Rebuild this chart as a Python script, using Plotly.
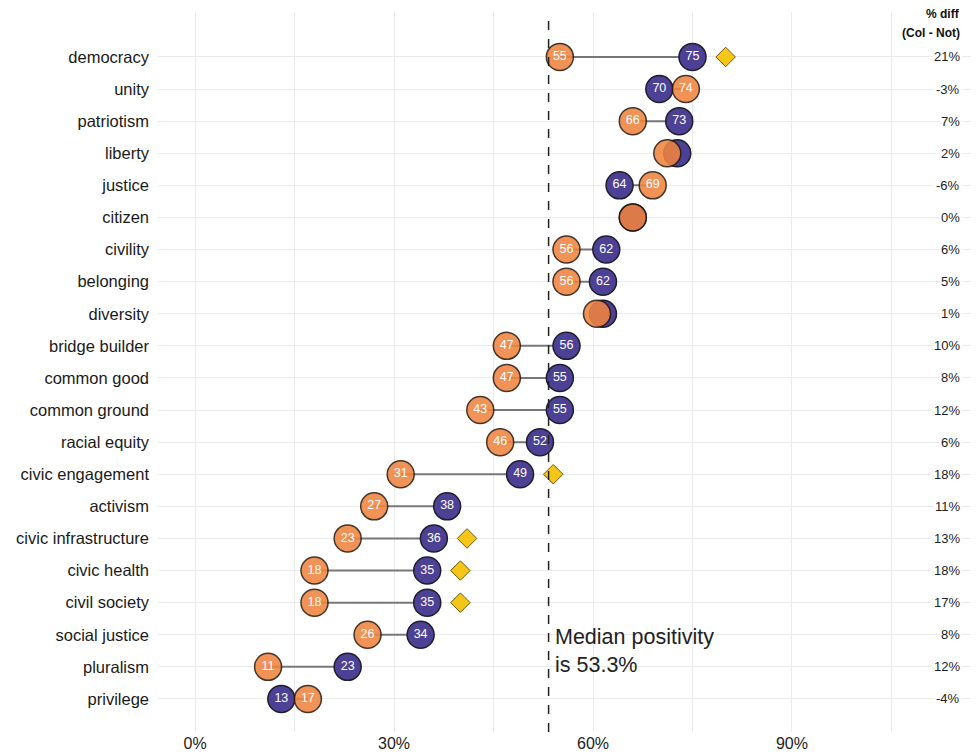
import plotly.graph_objects as go

terms = ["democracy", "unity", "patriotism", "liberty", "justice", "citizen", "civility",
         "belonging", "diversity", "bridge builder", "common good", "common ground",
         "racial equity", "civic engagement", "activism", "civic infrastructure",
         "civic health", "civil society", "social justice", "pluralism", "privilege"]
col_vals = [75, 70, 73, 72.7, 64, 66, 62, 61.5, 61.5, 56, 55, 55, 52, 49, 38, 36, 35, 35, 34, 23, 13]
not_vals = [55, 74, 66, 71.2, 69, 66, 56, 56, 60.6, 47, 47, 43, 46, 31, 27, 23, 18, 18, 26, 11, 17]
diff_labels = ["21%", "-3%", "7%", "2%", "-6%", "0%", "6%", "5%", "1%", "10%", "8%", "12%",
               "6%", "18%", "11%", "13%", "18%", "17%", "8%", "12%", "-4%"]
significant = [True, False, False, False, False, False, False, False, False, False, False, False,
               False, True, False, True, True, True, False, False, False]
median_positivity = 53.3
x_tick_vals = [0, 15, 30, 45, 60, 75, 90, 105]
x_tick_text = ["0%", "", "30%", "", "60%", "", "90%", ""]

PURPLE = "#4d4195"
ORANGE = "#f0843f"
FONT = "Liberation Sans, Arial, sans-serif"

ys = list(range(len(terms)))

fig = go.Figure()

# connecting segments
seg_x, seg_y = [], []
for i, (c, n) in enumerate(zip(col_vals, not_vals)):
    seg_x += [min(c, n), max(c, n), None]
    seg_y += [i, i, None]
fig.add_trace(go.Scatter(x=seg_x, y=seg_y, mode="lines",
                         line=dict(color="#777777", width=2), hoverinfo="skip", showlegend=False))

def lab(v, other):
    return "" if abs(v - other) < 3 else f"{round(v):d}"

col_text = [lab(c, n) for c, n in zip(col_vals, not_vals)]
not_text = [lab(n, c) for c, n in zip(col_vals, not_vals)]

fig.add_trace(go.Scatter(x=col_vals, y=ys, mode="markers+text", text=col_text,
                         textposition="middle center",
                         textfont=dict(color="white", size=12.5, family=FONT),
                         marker=dict(size=27, color=PURPLE, line=dict(color="#1e1e2e", width=1.5)),
                         name="Col", showlegend=False))
fig.add_trace(go.Scatter(x=not_vals, y=ys, mode="markers+text", text=not_text,
                         textposition="middle center",
                         textfont=dict(color="white", size=12.5, family=FONT),
                         marker=dict(size=27, color=ORANGE, opacity=0.88,
                                     line=dict(color="#2a1a10", width=1.5)),
                         name="Not", showlegend=False))

# significance diamonds
dx = [c + 5 for c, s in zip(col_vals, significant) if s]
dy = [i for i, s in zip(ys, significant) if s]
fig.add_trace(go.Scatter(x=dx, y=dy, mode="markers",
                         marker=dict(symbol="diamond", size=15, color="#f5c518",
                                     line=dict(color="#6b5a10", width=1)),
                         showlegend=False, hoverinfo="skip"))

# median line
fig.add_shape(type="line", x0=median_positivity, x1=median_positivity, y0=0, y1=1,
              xref="x", yref="paper", line=dict(color="#222222", width=1.5, dash="dash"))
fig.add_annotation(x=median_positivity + 0.6, y=18.5, xref="x", yref="y",
                   text="Median positivity<br>is 53.3%", showarrow=False,
                   xanchor="left", yanchor="middle", align="left",
                   font=dict(size=21.5, color="#222222", family=FONT))

# diff column
DIFF_X = 115.6
for i, t in enumerate(diff_labels):
    fig.add_annotation(x=DIFF_X, y=i, xref="x", yref="y", text=t, showarrow=False,
                       xanchor="right", yanchor="middle", bgcolor="white",
                       font=dict(size=13, color="#222222", family=FONT))
fig.add_annotation(x=DIFF_X, y=-1.34, xref="x", yref="y", text="<b>% diff</b>", showarrow=False,
                   xanchor="right", yanchor="middle", font=dict(size=12, color="#111111", family=FONT))
fig.add_annotation(x=DIFF_X, y=-0.75, xref="x", yref="y", text="<b>(Col - Not)</b>", showarrow=False,
                   xanchor="right", yanchor="middle", font=dict(size=12, color="#111111", family=FONT))

fig.update_layout(
    width=971, height=744,
    margin=dict(l=150, r=4, t=4, b=20),
    plot_bgcolor="white", paper_bgcolor="white",
    xaxis=dict(range=[-5.6, 117.6], tickvals=x_tick_vals, ticktext=x_tick_text,
               showgrid=True, gridcolor="#ebebeb", gridwidth=1, zeroline=False,
               showline=False, ticks="", ticklabelstandoff=0, automargin=False,
               tickfont=dict(size=16, color="#222222", family=FONT)),
    yaxis=dict(range=[21.03, -1.40], tickvals=ys, ticktext=terms,
               showgrid=True, gridcolor="#ebebeb", gridwidth=1, zeroline=False,
               showline=False, ticks="", ticklabelstandoff=8, automargin=False,
               tickfont=dict(size=16.5, color="#1a1a1a", family=FONT)),
)

fig.write_html("out.html")
